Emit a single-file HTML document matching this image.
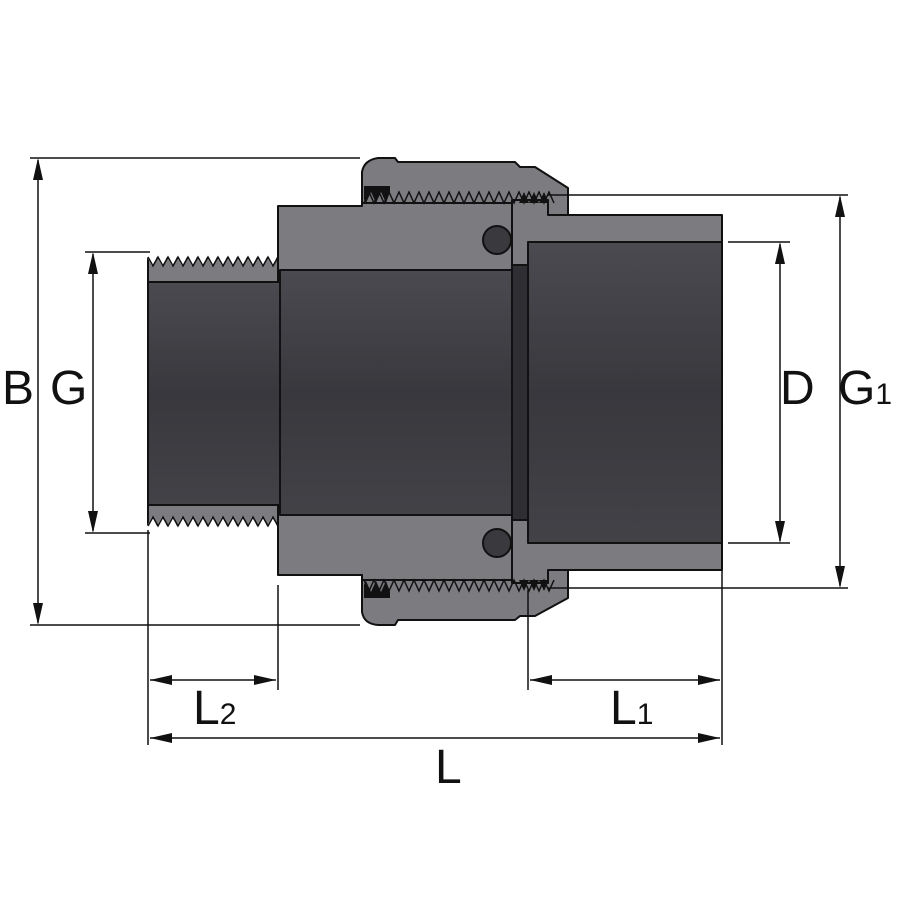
<!DOCTYPE html>
<html><head><meta charset="utf-8"><style>html,body{margin:0;padding:0;background:#fff}svg{display:block}</style></head>
<body>
<svg width="900" height="900" viewBox="0 0 900 900" xmlns="http://www.w3.org/2000/svg" font-family="Liberation Sans, sans-serif">
<defs>
<linearGradient id="bore" x1="0" y1="0" x2="0" y2="1">
<stop offset="0" stop-color="#4a4a50"/><stop offset="0.5" stop-color="#38383d"/><stop offset="1" stop-color="#424247"/>
</linearGradient>
</defs>
<g stroke="#111" stroke-width="2" stroke-linejoin="round">
<rect x="148" y="258" width="132" height="267" fill="#7b7b80"/>
<path d="M278 206 L362 206 L362 196 L512 196 L512 584 L362 584 L362 575 L278 575 Z" fill="#7b7b80"/>
<path d="M362 205 L362 172 Q364 160 378 158 L395 158 L398 162 L515 162 L520 167 L535 167 L568 188 L568 215 L548 215 L548 203 L362 203 Z" fill="#7b7b80"/>
<path d="M362 575 L362 612 Q364 624 378 625 L395 625 L398 620 L515 620 L520 616 L535 616 L568 598 L568 568 L548 568 L548 580 L362 580 Z" fill="#7b7b80"/>
<path d="M512 200 L548 200 L548 215 L722 215 L722 570 L548 570 L548 583 L512 583 Z" fill="#7b7b80"/>
<rect x="148" y="282" width="132" height="223" fill="url(#bore)"/>
<rect x="280" y="270" width="232" height="245" fill="url(#bore)"/>
<rect x="512" y="265" width="16" height="255" fill="#2e2e33"/>
<rect x="528" y="242" width="194" height="301" fill="url(#bore)"/>
<circle cx="497" cy="240" r="14" fill="#3a3a3e"/>
<circle cx="497" cy="543" r="14" fill="#3a3a3e"/>
</g>
<!-- spigot threads -->
<g stroke="#111" stroke-width="1.5" stroke-linejoin="miter">
<path fill="#fff" stroke="none" d="M147 248 L147 257 l5 9 l5 -9 l5 9 l5 -9 l5 9 l5 -9 l5 9 l5 -9 l5 9 l5 -9 l5 9 l5 -9 l5 9 l5 -9 l5 9 l5 -9 l5 9 l5 -9 l5 9 l5 -9 l5 9 l5 -9 l5 9 l5 -9 l5 9 l5 -9 L277 248 Z"/>
<path fill="none" d="M148 257 l5 9 l5 -9 l5 9 l5 -9 l5 9 l5 -9 l5 9 l5 -9 l5 9 l5 -9 l5 9 l5 -9 l5 9 l5 -9 l5 9 l5 -9 l5 9 l5 -9 l5 9 l5 -9 l5 9 l5 -9 l5 9 l5 -9 l5 9 l5 -9 L278 257"/>
<path fill="#fff" stroke="none" d="M147 534 L147 526 l5 -9 l5 9 l5 -9 l5 9 l5 -9 l5 9 l5 -9 l5 9 l5 -9 l5 9 l5 -9 l5 9 l5 -9 l5 9 l5 -9 l5 9 l5 -9 l5 9 l5 -9 l5 9 l5 -9 l5 9 l5 -9 l5 9 l5 -9 l5 9 L277 534 Z"/>
<path fill="none" d="M148 526 l5 -9 l5 9 l5 -9 l5 9 l5 -9 l5 9 l5 -9 l5 9 l5 -9 l5 9 l5 -9 l5 9 l5 -9 l5 9 l5 -9 l5 9 l5 -9 l5 9 l5 -9 l5 9 l5 -9 l5 9 l5 -9 l5 9 l5 -9 l5 9 L278 526"/>
<!-- nut threads -->
<path fill="none" d="M364 203 l5 -11 l5 11 l5 -11 l5 11 l5 -11 l5 11 l5 -11 l5 11 l5 -11 l5 11 l5 -11 l5 11 l5 -11 l5 11 l5 -11 l5 11 l5 -11 l5 11 l5 -11 l5 11 l5 -11 l5 11 l5 -11 l5 11 l5 -11 l5 11 l5 -11 l5 11 l5 -11 l5 11 l5 -11 l5 11 l5 -11 l5 11 l5 -11 l5 11 l5 -11 l5 11"/>
<path fill="none" d="M364 580 l5 11 l5 -11 l5 11 l5 -11 l5 11 l5 -11 l5 11 l5 -11 l5 11 l5 -11 l5 11 l5 -11 l5 11 l5 -11 l5 11 l5 -11 l5 11 l5 -11 l5 11 l5 -11 l5 11 l5 -11 l5 11 l5 -11 l5 11 l5 -11 l5 11 l5 -11 l5 11 l5 -11 l5 11 l5 -11 l5 11 l5 -11 l5 11 l5 -11 l5 11 l5 -11"/>
</g>
<g fill="#111">
<path d="M364 186 h26 v6 l-4 11 l-5 -11 l-5 11 l-5 -11 l-5 11 l-2 -4 Z"/>
<path d="M364 598 h26 v-6 l-4 -11 l-5 11 l-5 -11 l-5 11 l-5 -11 l-2 4 Z"/>
<path d="M519 203 l5 -11 l5 11 l5 -11 l5 11 l5 -11 l5 11 Z"/>
<path d="M519 580 l5 11 l5 -11 l5 11 l5 -11 l5 11 l5 -11 Z"/>
</g>
<g stroke="#111" stroke-width="1.5" fill="none">
<path d="M30 158 H360 M30 625 H360 M38 160 V623"/>
<path d="M85 252 H150 M85 533 H150 M93 254 V531"/>
<path d="M728 242 H790 M728 543 H790 M780 244 V541"/>
<path d="M548 195 H848 M548 588 H848 M840 197 V586"/>
<path d="M148 530 V745 M278 585 V690 M528 590 V690 M722 570 V745"/>
<path d="M150 680 H276 M530 680 H720 M150 738 H720"/>
</g>
<g fill="#111">
<path d="M38 158 l-5 22 h10 Z M38 625 l-5 -22 h10 Z"/>
<path d="M93 252 l-5 22 h10 Z M93 533 l-5 -22 h10 Z"/>
<path d="M780 242 l-5 22 h10 Z M780 543 l-5 -22 h10 Z"/>
<path d="M840 195 l-5 22 h10 Z M840 588 l-5 -22 h10 Z"/>
<path d="M150 680 l22 -5 v10 Z M276 680 l-22 -5 v10 Z"/>
<path d="M530 680 l22 -5 v10 Z M720 680 l-22 -5 v10 Z"/>
<path d="M150 738 l22 -5 v10 Z M720 738 l-22 -5 v10 Z"/>
</g>
<g font-size="48" fill="#111">
<text x="2" y="404">B</text>
<text x="50" y="404">G</text>
<text x="780" y="404">D</text>
<text x="838" y="404">G<tspan font-size="30">1</tspan></text>
<text x="193" y="724">L<tspan font-size="30">2</tspan></text>
<text x="610" y="724">L<tspan font-size="30">1</tspan></text>
<text x="435" y="783">L</text>
</g>
</svg>
</body></html>
